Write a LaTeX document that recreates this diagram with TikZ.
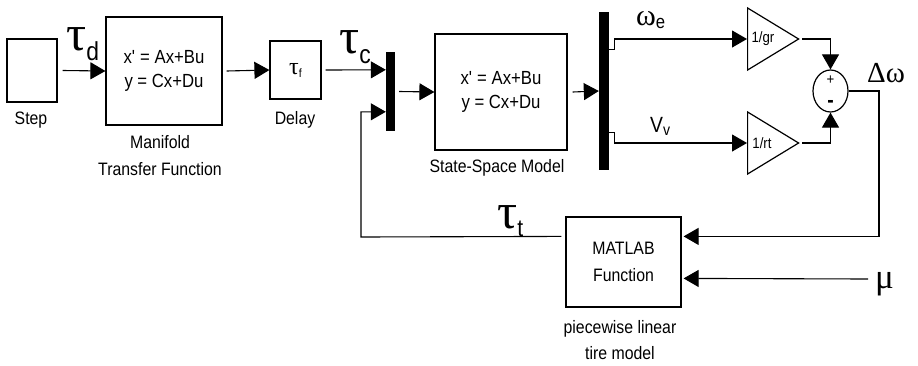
\documentclass[tikz,border=0pt]{standalone}
\usepackage{fontspec}
\usepackage{graphicx}
\setmainfont{Liberation Sans}[FakeStretch=0.88]
\newfontfamily\gk{Liberation Serif}
\usetikzlibrary{arrows.meta,shapes.geometric,calc}
\newcommand\fsz[2]{\fontsize{#1}{#2}\selectfont}
\newcommand\gtxt[2]{{\fontsize{#1}{#1}\selectfont\gk #2}}
\tikzset{
  blockbox/.style={draw, line width=1.2pt, inner sep=0pt, align=center},
  bar/.style={fill=black, draw=none, inner sep=0pt},
  lbl/.style={inner sep=0pt, align=center},
  glbl/.style={inner sep=0pt, anchor=base west},
  wire/.style={line width=1.1pt},
  arr/.style={wire, -{Triangle[length=15pt,width=17pt]}},
  gain/.style={draw, line width=1.2pt, isosceles triangle, isosceles triangle stretches, inner sep=0pt, minimum width=62pt, minimum height=51pt, anchor=west},
  sumblk/.style={draw, line width=1.2pt, ellipse, inner sep=0pt, minimum width=35pt, minimum height=42pt}
}
\begin{document}
\begin{tikzpicture}[x=1pt,y=-1pt]
\useasboundingbox (0,0) rectangle (918,365);
% blocks
\node[blockbox, minimum width=50pt, minimum height=63pt] (step) at (32,70.5) {};
\node[lbl, font=\fsz{18}{27}] (steplbl) at (31,120) {Step};
\node[blockbox, minimum width=116pt, minimum height=108pt, font=\fsz{19}{24}] (mf) at (164,71) {x\textquotesingle{} = Ax+Bu\\ y = Cx+Du};
\node[lbl, font=\fsz{18}{27}] (mflbl) at (160,156) {Manifold\\Transfer Function};
\node[blockbox, minimum width=51pt, minimum height=58pt] (delay) at (295.5,70) {\gtxt{24}{τ}\raisebox{-3pt}{\fsz{12}{12}f}};
\node[lbl, font=\fsz{18}{27}] (delaylbl) at (295,120) {Delay};
\node[bar, minimum width=9pt, minimum height=79pt] (mux) at (390.5,91.5) {};
\node[blockbox, minimum width=132pt, minimum height=116pt, font=\fsz{19}{24}] (ss) at (501,92) {x\textquotesingle{} = Ax+Bu\\ y = Cx+Du};
\node[lbl, font=\fsz{18}{27}] (sslbl) at (497,168) {State-Space Model};
\node[bar, minimum width=10pt, minimum height=158pt] (demux) at (604,91) {};
\node[gain] (g1) at (747,39) {};
\node[inner sep=0pt, font=\fsz{15}{15}] (g1t) at (763,39) {1/gr};
\node[gain] (g2) at (747,143) {};
\node[inner sep=0pt, font=\fsz{15}{15}] (g2t) at (762,143) {1/rt};
\node[sumblk] (sum) at (830.5,91) {};
\node[inner sep=0pt, font=\fsz{15}{15}] (plus) at (830.5,80) {+};
\node[inner sep=0pt, font=\fsz{22}{22}\bfseries] (minus) at (830.5,104) {-};
\node[blockbox, minimum width=115pt, minimum height=90pt, font=\fsz{18}{27}] (mat) at (623.5,262) {MATLAB\\Function};
\node[lbl, font=\fsz{18}{26}] (matlbl) at (620,340) {piecewise linear\\tire model};
% signal labels
\node[glbl] (taud) at (66,50) {\gtxt{50}{τ}\raisebox{-10pt}{\fsz{26}{26}d}};
\node[glbl] (tauc) at (339,53) {\gtxt{50}{τ}\raisebox{-10pt}{\fsz{26}{26}c}};
\node[glbl] (taut) at (497,228) {\gtxt{50}{τ}\raisebox{-8pt}{\fsz{24}{24}t}};
\node[glbl] (ome) at (636,25) {\gtxt{30}{ω}\raisebox{-3pt}{\fsz{19}{19}e}};
\node[glbl] (vv) at (650,132) {\fsz{22}{22}V\raisebox{-3pt}{\fsz{16}{16}v}};
\node[glbl] (dw) at (867,82) {\gtxt{29}{Δω}};
\node[glbl] (mu) at (875,288) {\gtxt{35}{μ}};
% coordinates
\coordinate (mux1) at ($(mux.north west)+(0,18)$);
\coordinate (mux2) at ($(mux.north west)+(0,60)$);
\coordinate (dm1) at ($(demux.north east)+(0,38)$);
\coordinate (dm2) at ($(demux.north east)+(0,121)$);
\coordinate (dwc) at (879,91);
\coordinate (matin1) at ($(mat.north east)+(2,20)$);
\coordinate (matin2) at ($(mat.north east)+(2,62)$);
\coordinate (matout) at ($(mat.north west)+(-4,20)$);
\coordinate (fbc) at (361,237);
\coordinate (muend) at (868,279);
% connectors
\draw[arr] ($(step.east)+(5,0)$) -- (mf.west);
\draw[arr] ($(mf.east)+(4,0)$) -- (delay.west);
\draw[arr] ($(delay.east)+(4,0)$) -- (mux1);
\draw[arr] ($(mux.east)+(4,0)$) -- (ss.west);
\draw[arr] ($(ss.east)+(5,0)$) -- (demux.west);
\draw[arr] (dm1) -- ++(5,0) |- (g1.west);
\draw[arr] (dm2) -- ++(5,0) |- (g2.west);
\draw[arr] ($(g1.east)+(2,0)$) -| (sum.north);
\draw[arr] ($(g2.east)+(2,0)$) -| (sum.south);
\draw[arr] (sum.east) -- (dwc) |- (matin1);
\draw[arr] (muend) -- (matin2);
\draw[arr] (matout) -- (fbc) |- (mux2);
\end{tikzpicture}
\end{document}
